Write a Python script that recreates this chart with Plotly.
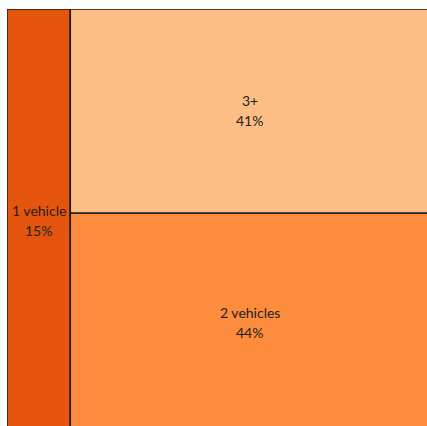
import plotly.graph_objects as go

categories = ["1 vehicle", "2 vehicles", "3+"]
shares = [15, 44, 41]
colors = ["#E6550D", "#FD8D3C", "#FDBE85"]

total = sum(shares)
# layout: first category is a full-height strip on the left; the rest stacked vertically
x_split = shares[0] / total
rest = shares[1] + shares[2]
y_split = shares[1] / rest  # 2 vehicles at bottom, 3+ on top

rects = {
    "1 vehicle": (0, x_split, 0, 1),
    "2 vehicles": (x_split, 1, 0, y_split),
    "3+": (x_split, 1, y_split, 1),
}

fig = go.Figure()
annotations = []
for cat, val, col in zip(categories, shares, colors):
    x0, x1, y0, y1 = rects[cat]
    fig.add_trace(go.Scatter(
        x=[x0, x1, x1, x0, x0], y=[y0, y0, y1, y1, y0],
        fill="toself", fillcolor=col, mode="lines",
        line=dict(color="#1a1a1a", width=1.5),
        hoveron="fills", name=cat, text=f"{cat}: {val}%", hoverinfo="text",
        showlegend=False,
    ))
    cx, cy = (x0 + x1) / 2, (y0 + y1) / 2
    for txt, shift in ((cat, 10), (f"{val}%", -10)):
        annotations.append(dict(
            x=cx, y=cy, xref="x", yref="y", text=txt, showarrow=False,
            yshift=shift, xanchor="center", yanchor="middle",
            font=dict(family="Lato, DejaVu Sans, sans-serif", size=14, color="#222"),
        ))

fig.update_layout(
    width=424, height=426,
    margin=dict(l=2, r=0, t=2, b=0),
    paper_bgcolor="white", plot_bgcolor="white",
    xaxis=dict(visible=False, range=[0, 1], fixedrange=True),
    yaxis=dict(visible=False, range=[-0.003, 1], fixedrange=True),
    annotations=annotations,
)
fig.write_html(
    "out.html",
    post_script=(
        "document.documentElement.style.overflow='hidden';"
        "document.body.style.overflow='hidden';"
        "document.body.style.margin='6.5px 0 0 5px';"
    ),
)
